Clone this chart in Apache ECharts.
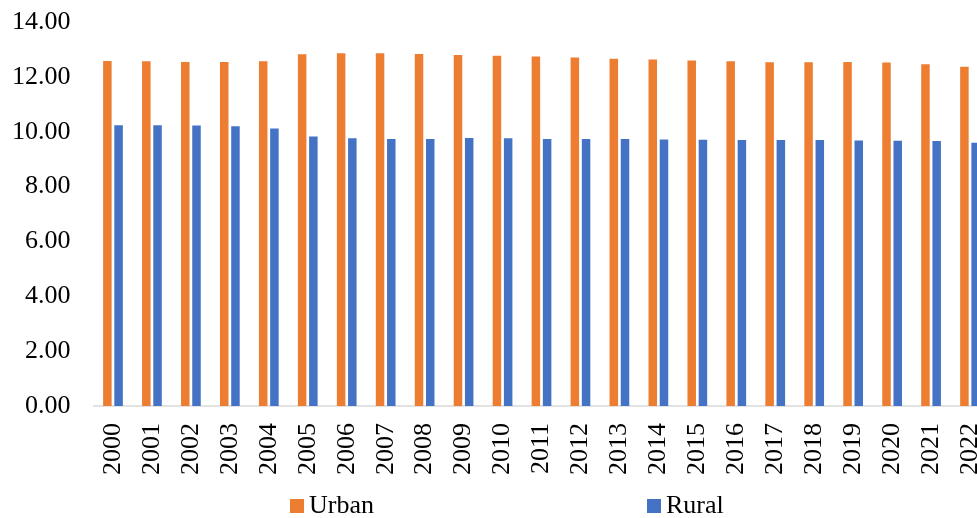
<!DOCTYPE html>
<html>
<head>
<meta charset="utf-8">
<title>Urban and Rural</title>
<script src="https://cdn.jsdelivr.net/npm/echarts@6/dist/echarts.min.js"></script>
<style>
  html, body { margin: 0; padding: 0; background: #ffffff; }
  #chart { width: 977px; height: 518px; }
</style>
</head>
<body>
<div id="chart"></div>
<script>
// Years on the category axis
var years = ['2000','2001','2002','2003','2004','2005','2006','2007','2008','2009','2010','2011',
             '2012','2013','2014','2015','2016','2017','2018','2019','2020','2021','2022'];

// Urban series values
var urban = [12.58, 12.57, 12.54, 12.54, 12.57, 12.82, 12.86, 12.86, 12.83, 12.80, 12.77, 12.74,
             12.71, 12.66, 12.63, 12.60, 12.57, 12.53, 12.53, 12.54, 12.52, 12.46, 12.37];

// Rural series values
var rural = [10.24, 10.24, 10.23, 10.20, 10.12, 9.83, 9.76, 9.73, 9.73, 9.77, 9.76, 9.73,
             9.73, 9.73, 9.72, 9.71, 9.70, 9.70, 9.70, 9.68, 9.67, 9.66, 9.60];

// Value axis range and step
var yMin = 0, yMax = 14, yStep = 2;

var FONT = '"Liberation Serif", "Times New Roman", serif';

var chart = echarts.init(document.getElementById('chart'), null, { renderer: 'canvas' });

chart.setOption({
  animation: false,
  backgroundColor: '#ffffff',
  textStyle: { fontFamily: FONT },
  grid: {
    left: 93.5,
    top: 22,
    width: 896,
    height: 384,
    containLabel: false,
    outerBoundsMode: 'none'
  },
  legend: {
    data: ['Urban', 'Rural'],
    left: 285,
    top: 488,
    itemWidth: 14,
    itemHeight: 14,
    itemGap: 273,
    icon: 'rect',
    textStyle: { fontFamily: FONT, fontSize: 26, color: '#000000' }
  },
  xAxis: {
    type: 'category',
    data: years,
    axisLine: { lineStyle: { color: '#d9d9d9', width: 1.5 } },
    axisTick: { show: false },
    axisLabel: {
      rotate: 90,
      interval: 0,
      margin: 17,
      fontFamily: FONT,
      fontSize: 26,
      color: '#000000'
    }
  },
  yAxis: {
    type: 'value',
    min: yMin,
    max: yMax,
    interval: yStep,
    axisLine: { show: false },
    axisTick: { show: false },
    splitLine: { show: false },
    axisLabel: {
      margin: 23,
      fontFamily: FONT,
      fontSize: 26,
      color: '#000000',
      formatter: function (v) { return v.toFixed(2); }
    }
  },
  series: [
    {
      name: 'Urban',
      type: 'bar',
      data: urban,
      barWidth: 8.5,
      barGap: '32%',
      itemStyle: { color: '#ED7D31' }
    },
    {
      name: 'Rural',
      type: 'bar',
      data: rural,
      barWidth: 8.5,
      barGap: '32%',
      itemStyle: { color: '#4472C4' }
    }
  ]
});
</script>
</body>
</html>
